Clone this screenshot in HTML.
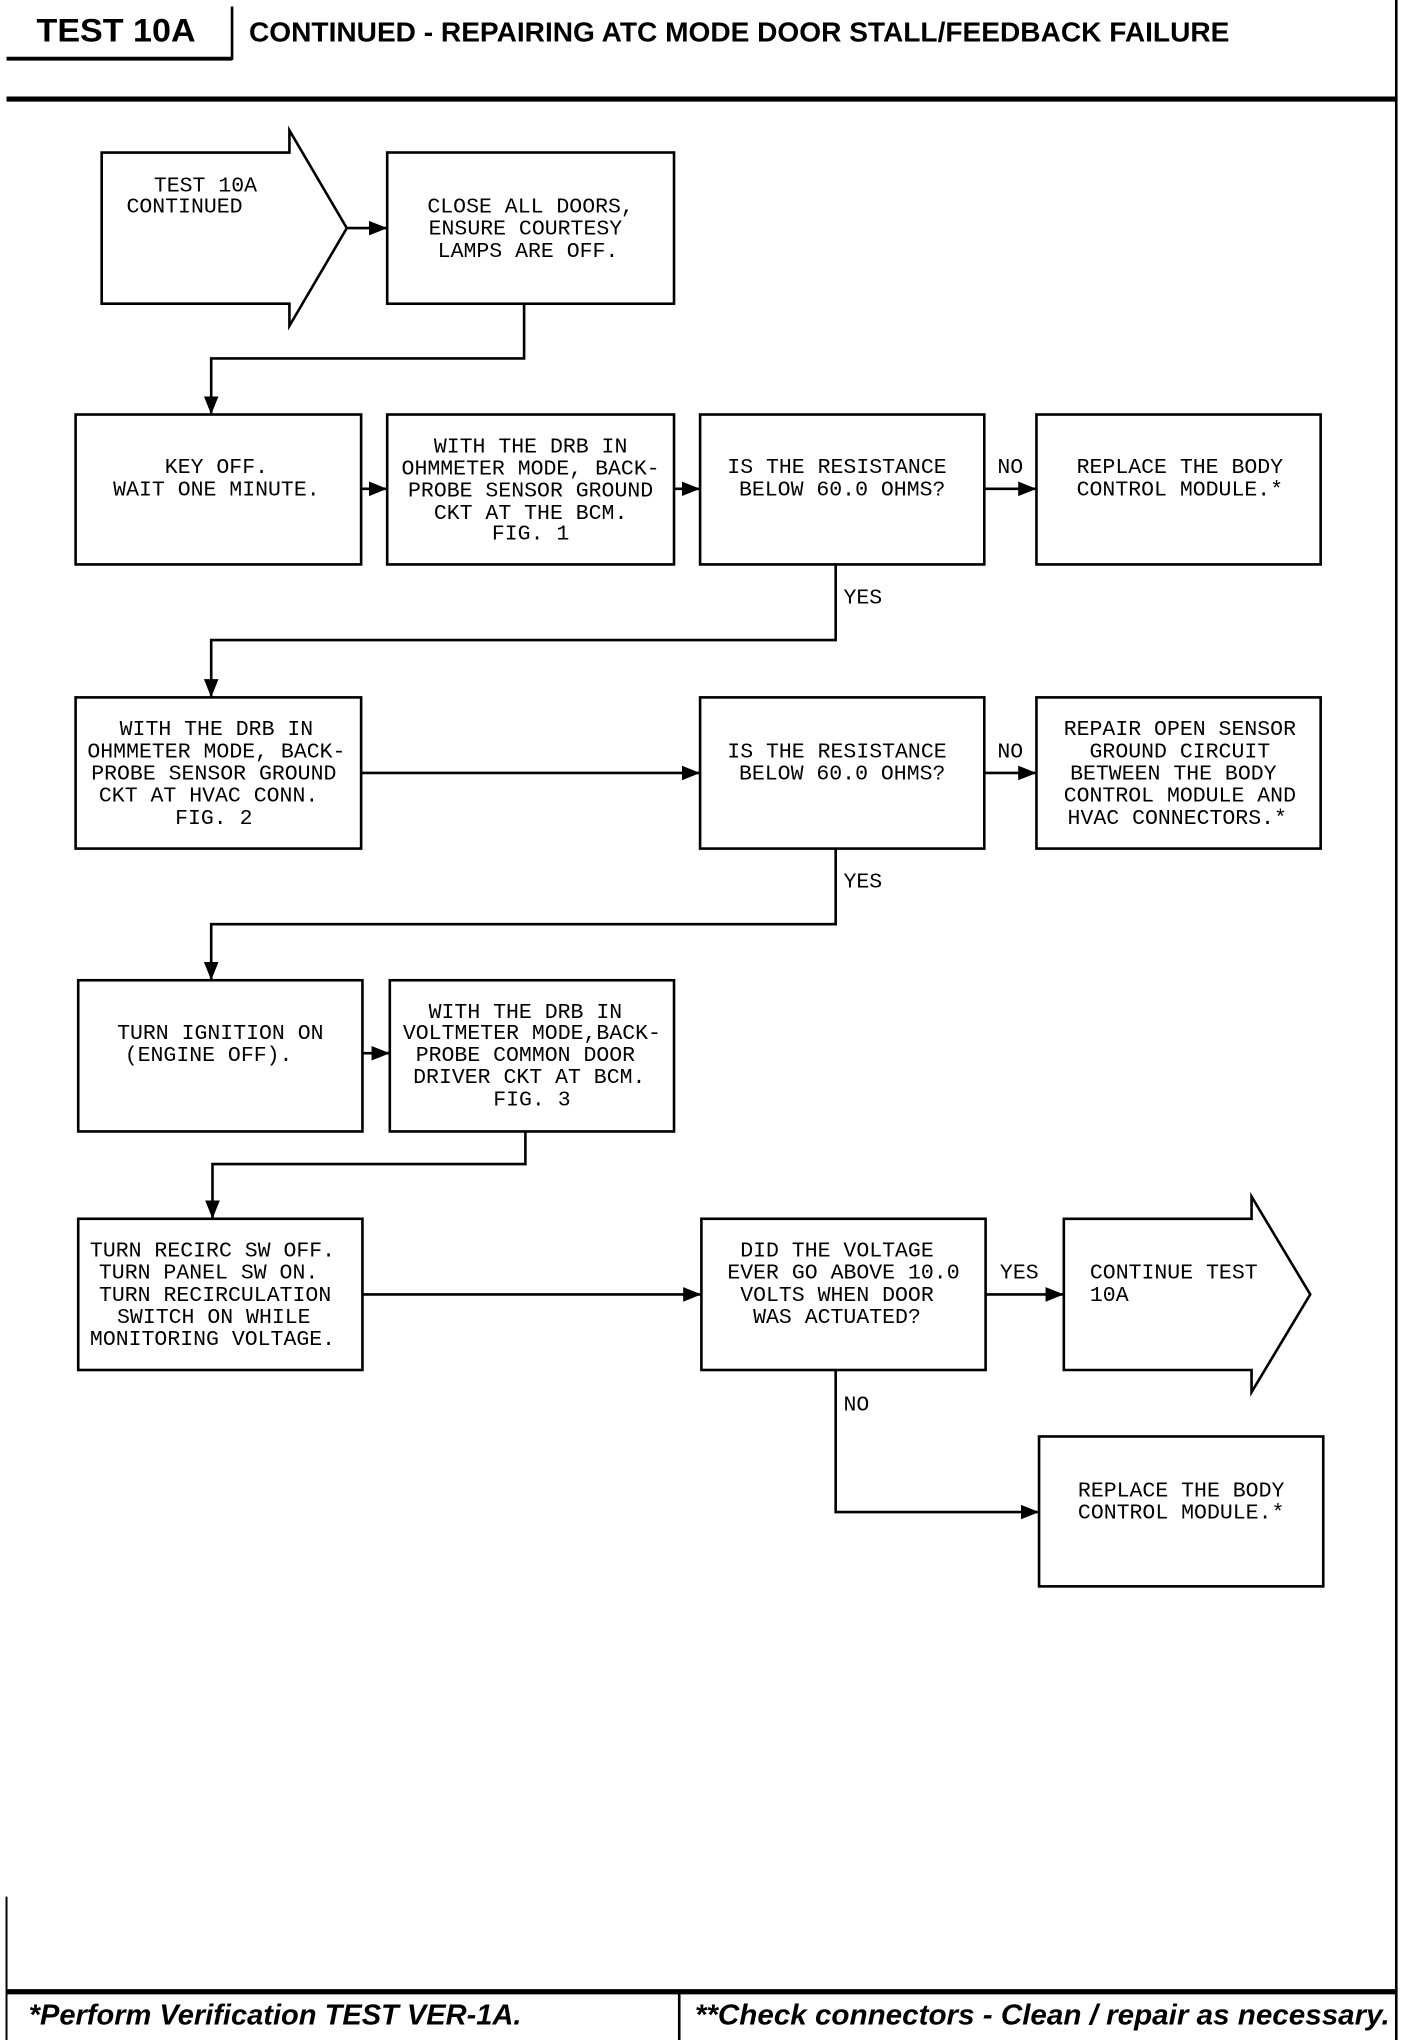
<!DOCTYPE html>
<html><head><meta charset="utf-8"><style>
html,body{margin:0;padding:0;background:#fff;}
svg{display:block;}
.t{font-family:"Liberation Mono",monospace;font-size:16.5px;fill:#000;text-anchor:middle;}
.l{font-family:"Liberation Mono",monospace;font-size:16.5px;fill:#000;}
</style></head><body>
<svg width="1408" height="2040" viewBox="0 0 1080 1565" preserveAspectRatio="none" xmlns="http://www.w3.org/2000/svg">
<defs><marker id="a" viewBox="0 0 10 10" refX="10" refY="5" markerWidth="7" markerHeight="7" orient="auto"><path d="M0,1 L10,5 L0,9z" fill="#000"/></marker></defs>
<g stroke="#000" fill="none">
<line x1="5" y1="45" x2="178" y2="45" stroke-width="3"/>
<line x1="178" y1="5" x2="178" y2="46" stroke-width="2"/>
<line x1="5" y1="76" x2="1072" y2="76" stroke-width="4"/>
<line x1="1071" y1="0" x2="1071" y2="1565" stroke-width="2"/>
<line x1="5" y1="1528" x2="1072" y2="1528" stroke-width="4"/>
<line x1="5" y1="1455" x2="5" y2="1565" stroke-width="1.5"/>
<line x1="521" y1="1528" x2="521" y2="1565" stroke-width="2"/>
</g>
<text x="28" y="32" font-family="Liberation Sans,sans-serif" font-weight="bold" font-size="25" textLength="122" lengthAdjust="spacingAndGlyphs">TEST 10A</text>
<text x="191" y="32" font-family="Liberation Sans,sans-serif" font-weight="bold" font-size="21" textLength="752" lengthAdjust="spacingAndGlyphs">CONTINUED - REPAIRING ATC MODE DOOR STALL/FEEDBACK FAILURE</text>
<text x="22" y="1553" font-family="Liberation Sans,sans-serif" font-weight="bold" font-style="italic" font-size="22" textLength="378" lengthAdjust="spacingAndGlyphs">*Perform Verification TEST VER-1A.</text>
<text x="533" y="1553" font-family="Liberation Sans,sans-serif" font-weight="bold" font-style="italic" font-size="22" textLength="533" lengthAdjust="spacingAndGlyphs">**Check connectors - Clean / repair as necessary.</text>

<g stroke="#000" stroke-width="2" fill="none">
<polygon points="78,117 222,117 222,100 266,175 222,250 222,233 78,233"/>
<rect x="297" y="117" width="220" height="116"/>
<rect x="58" y="318" width="219" height="115"/>
<rect x="297" y="318" width="220" height="115"/>
<rect x="537" y="318" width="218" height="115"/>
<rect x="795" y="318" width="218" height="115"/>
<rect x="58" y="535" width="219" height="116"/>
<rect x="537" y="535" width="218" height="116"/>
<rect x="795" y="535" width="218" height="116"/>
<rect x="60" y="752" width="218" height="116"/>
<rect x="299" y="752" width="218" height="116"/>
<rect x="60" y="935" width="218" height="116"/>
<rect x="538" y="935" width="218" height="116"/>
<polygon points="816,935 960,935 960,918 1005,993 960,1068 960,1051 816,1051"/>
<rect x="797" y="1102" width="218" height="115"/>
</g>
<g stroke="#000" stroke-width="2" fill="none" marker-end="url(#a)">
<line x1="266" y1="175" x2="297" y2="175"/>
<polyline points="402,233 402,275 162,275 162,318"/>
<line x1="277" y1="375" x2="297" y2="375"/>
<line x1="517" y1="375" x2="537" y2="375"/>
<line x1="755" y1="375" x2="795" y2="375"/>
<polyline points="641,433 641,491 162,491 162,535"/>
<line x1="277" y1="593" x2="537" y2="593"/>
<line x1="755" y1="593" x2="795" y2="593"/>
<polyline points="641,651 641,709 162,709 162,752"/>
<line x1="278" y1="808" x2="299" y2="808"/>
<polyline points="403,868 403,893 163,893 163,935"/>
<line x1="278" y1="993" x2="538" y2="993"/>
<line x1="756" y1="993" x2="816" y2="993"/>
<polyline points="641,1051 641,1160 797,1160"/>
</g>

<text class="l" x="118" y="147">TEST 10A</text>
<text class="l" x="97" y="163">CONTINUED</text>
<text class="t" x="407" y="163">CLOSE ALL DOORS,</text>
<text class="t" x="403" y="180">ENSURE COURTESY</text>
<text class="t" x="405" y="197">LAMPS ARE OFF.</text>

<text class="t" x="166" y="363">KEY OFF.</text>
<text class="t" x="166" y="380">WAIT ONE MINUTE.</text>
<text class="t" x="407" y="347">WITH THE DRB IN</text>
<text class="t" x="407" y="364">OHMMETER MODE, BACK-</text>
<text class="t" x="407" y="381">PROBE SENSOR GROUND</text>
<text class="t" x="407" y="398">CKT AT THE BCM.</text>
<text class="t" x="407" y="414">FIG. 1</text>
<text class="t" x="642" y="363">IS THE RESISTANCE</text>
<text class="t" x="646" y="380">BELOW 60.0 OHMS?</text>
<text class="l" x="765" y="363">NO</text>
<text class="t" x="905" y="363">REPLACE THE BODY</text>
<text class="t" x="905" y="380">CONTROL MODULE.*</text>
<text class="l" x="647" y="463">YES</text>

<text class="t" x="166" y="564">WITH THE DRB IN</text>
<text class="t" x="166" y="581">OHMMETER MODE, BACK-</text>
<text class="t" x="164" y="598">PROBE SENSOR GROUND</text>
<text class="t" x="160" y="615">CKT AT HVAC CONN.</text>
<text class="t" x="164" y="632">FIG. 2</text>
<text class="t" x="642" y="581">IS THE RESISTANCE</text>
<text class="t" x="646" y="598">BELOW 60.0 OHMS?</text>
<text class="l" x="765" y="581">NO</text>
<text class="t" x="905" y="564">REPAIR OPEN SENSOR</text>
<text class="t" x="905" y="581">GROUND CIRCUIT</text>
<text class="t" x="900" y="598">BETWEEN THE BODY</text>
<text class="t" x="905" y="615">CONTROL MODULE AND</text>
<text class="t" x="903" y="632">HVAC CONNECTORS.*</text>
<text class="l" x="647" y="681">YES</text>

<text class="t" x="169" y="797">TURN IGNITION ON</text>
<text class="t" x="160" y="814">(ENGINE OFF).</text>
<text class="t" x="403" y="781">WITH THE DRB IN</text>
<text class="t" x="408" y="797">VOLTMETER MODE,BACK-</text>
<text class="t" x="403" y="814">PROBE COMMON DOOR</text>
<text class="t" x="406" y="831">DRIVER CKT AT BCM.</text>
<text class="t" x="408" y="848">FIG. 3</text>

<text class="t" x="163" y="964">TURN RECIRC SW OFF.</text>
<text class="t" x="160" y="981">TURN PANEL SW ON.</text>
<text class="t" x="165" y="998">TURN RECIRCULATION</text>
<text class="t" x="164" y="1015">SWITCH ON WHILE</text>
<text class="t" x="163" y="1032">MONITORING VOLTAGE.</text>
<text class="t" x="642" y="964">DID THE VOLTAGE</text>
<text class="t" x="647" y="981">EVER GO ABOVE 10.0</text>
<text class="t" x="642" y="998">VOLTS WHEN DOOR</text>
<text class="t" x="642" y="1015">WAS ACTUATED?</text>
<text class="l" x="767" y="981">YES</text>
<text class="l" x="836" y="981">CONTINUE TEST</text>
<text class="l" x="836" y="998">10A</text>
<text class="l" x="647" y="1082">NO</text>
<text class="t" x="906" y="1148">REPLACE THE BODY</text>
<text class="t" x="906" y="1165">CONTROL MODULE.*</text>
</svg>
</body></html>
